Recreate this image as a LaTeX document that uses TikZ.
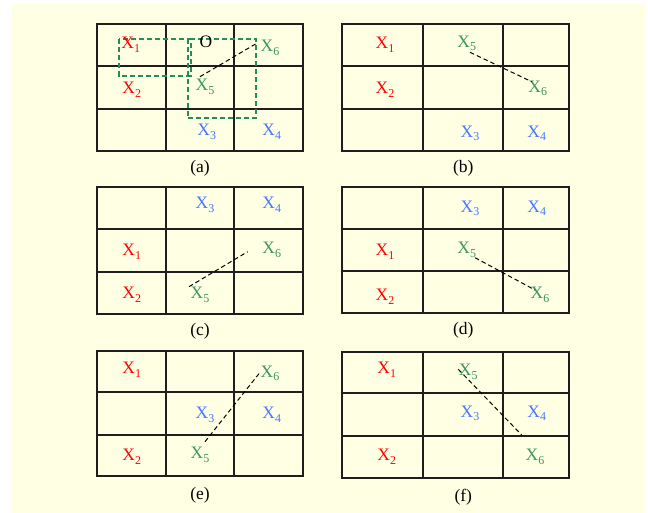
\documentclass[tikz,border=0pt]{standalone}
\usepackage{fontspec}
\setmainfont{Liberation Serif}
\definecolor{bgyellow}{RGB}{255,255,227}
\definecolor{xred}{RGB}{255,0,0}
\definecolor{xblue}{RGB}{70,120,255}
\definecolor{xgreen}{RGB}{60,150,95}
\definecolor{boxgreen}{RGB}{40,140,90}
\definecolor{gridgray}{RGB}{30,30,30}
\newcommand{\xlab}[1]{X\raisebox{-3.5pt}{\fontsize{12}{12}\selectfont #1}}
\newcommand{\panelgrid}[8]{%
  \draw[gridline] (#1,#5) rectangle (#4,#8);
  \draw[gridline] (#2,#5) -- (#2,#8);
  \draw[gridline] (#3,#5) -- (#3,#8);
  \draw[gridline] (#1,#6) -- (#4,#6);
  \draw[gridline] (#1,#7) -- (#4,#7);
}
\begin{document}
\begin{tikzpicture}[x=1pt,y=-1pt,
  gridline/.style={draw=gridgray,line width=1.3pt},
  lab/.style={font=\fontsize{17.5}{17.5}\selectfont,inner sep=0pt},
  rl/.style={lab,text=xred},
  bl/.style={lab,text=xblue},
  gl/.style={lab,text=xgreen},
  captxt/.style={lab,text=black},
  link/.style={draw=black,line width=1pt,dash pattern=on 4.5pt off 3pt},
  gbox/.style={draw=boxgreen,line width=1.7pt,dash pattern=on 5pt off 3pt}]
\useasboundingbox (0,0) rectangle (648,513);
\fill[bgyellow] (12,4) rectangle (645,513);

% grids
\panelgrid{97}{166}{234}{303}{24}{66}{109}{151}
\panelgrid{342}{423}{503}{569}{24}{66}{109}{151}
\panelgrid{97}{166}{234}{303}{187}{229}{272}{314}
\panelgrid{342}{423}{503}{569}{187}{229}{271}{313}
\panelgrid{97}{166}{234}{303}{351}{392}{435}{476}
\panelgrid{342}{423}{503}{569}{352}{393}{436}{478}

% panel (a)
\draw[gbox] (119,39) rectangle (190.7,75.7);
\draw[gbox] (187.7,39) rectangle (256,118.3);
\node[rl] (a1) at (130.7,45) {\xlab{1}};
\node[captxt] (aO) at (206,42) {O};
\node[gl] (a6) at (270,48) {\xlab{6}};
\node[rl] (a2) at (131.7,90) {\xlab{2}};
\node[gl] (a5) at (205,86.7) {\xlab{5}};
\node[bl] (a3) at (206.7,131.7) {\xlab{3}};
\node[bl] (a4) at (271.7,131.7) {\xlab{4}};
\coordinate (a5e) at (200,76.7);
\coordinate (a6e) at (256.7,43.3);
\draw[link] (a5e) -- (a6e);
\node[captxt] (capa) at (200,168.3) {(a)};

% panel (b)
\node[rl] (b1) at (385,45) {\xlab{1}};
\node[gl] (b5) at (466.7,43.3) {\xlab{5}};
\node[rl] (b2) at (385,90) {\xlab{2}};
\node[gl] (b6) at (537.7,88.3) {\xlab{6}};
\node[bl] (b3) at (470,133.3) {\xlab{3}};
\node[bl] (b4) at (536.7,133.3) {\xlab{4}};
\coordinate (b5e) at (470,52.3);
\coordinate (b6e) at (531.7,81.7);
\draw[link] (b5e) -- (b6e);
\node[captxt] (capb) at (463.3,168.3) {(b)};

% panel (c)
\node[bl] (c3) at (205,205) {\xlab{3}};
\node[bl] (c4) at (271.7,205) {\xlab{4}};
\node[rl] (c1) at (131.7,251.7) {\xlab{1}};
\node[gl] (c6) at (271.7,250) {\xlab{6}};
\node[rl] (c2) at (131.7,295) {\xlab{2}};
\node[gl] (c5) at (200,295) {\xlab{5}};
\coordinate (c5e) at (189,286.7);
\coordinate (c6e) at (247.7,251.7);
\draw[link] (c5e) -- (c6e);
\node[captxt] (capc) at (200,331.7) {(c)};

% panel (d)
\node[bl] (d3) at (470,208.3) {\xlab{3}};
\node[bl] (d4) at (536.7,208.3) {\xlab{4}};
\node[rl] (d1) at (385,251.7) {\xlab{1}};
\node[gl] (d5) at (466.7,250) {\xlab{5}};
\node[rl] (d2) at (385,296.7) {\xlab{2}};
\node[gl] (d6) at (540,295) {\xlab{6}};
\coordinate (d5e) at (475,257.7);
\coordinate (d6e) at (535,290);
\draw[link] (d5e) -- (d6e);
\node[captxt] (capd) at (463.3,330.7) {(d)};

% panel (e)
\node[rl] (e1) at (131.7,370) {\xlab{1}};
\node[gl] (e6) at (270,373.3) {\xlab{6}};
\node[bl] (e3) at (205,415) {\xlab{3}};
\node[bl] (e4) at (271.7,415) {\xlab{4}};
\node[rl] (e2) at (131.7,456.7) {\xlab{2}};
\node[gl] (e5) at (200,455) {\xlab{5}};
\coordinate (e5e) at (205,441.7);
\coordinate (e6e) at (259.3,373.3);
\draw[link] (e5e) -- (e6e);
\node[captxt] (cape) at (200,495) {(e)};

% panel (f)
\node[rl] (f1) at (386.7,370) {\xlab{1}};
\node[gl] (f5) at (468.3,371.7) {\xlab{5}};
\node[bl] (f3) at (470,413.3) {\xlab{3}};
\node[bl] (f4) at (536.7,413.3) {\xlab{4}};
\node[rl] (f2) at (386.7,456.7) {\xlab{2}};
\node[gl] (f6) at (535,456.7) {\xlab{6}};
\coordinate (f5e) at (458.3,369.3);
\coordinate (f6e) at (521.7,435);
\draw[link] (f5e) -- (f6e);
\node[captxt] (capf) at (463.3,496.7) {(f)};
\end{tikzpicture}
\end{document}
